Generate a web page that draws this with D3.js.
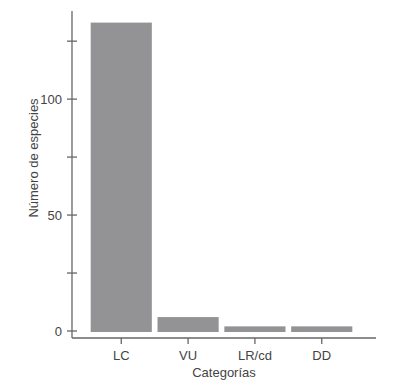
<!DOCTYPE html>
<html>
<head>
<meta charset="utf-8">
<script src="https://cdn.jsdelivr.net/npm/d3@7"></script>
<style>
  body { margin: 0; background: #fff; }
  svg text { font-family: "Liberation Sans", Arial, sans-serif; fill: #444; }
</style>
</head>
<body>
<div id="chart"></div>
<script>
// données
const categories = ['LC', 'VU', 'LR/cd', 'DD'];
const counts = [133, 6, 2, 2];
const yTicks = [0, 25, 50, 75, 100, 125];
const yLabels = [0, 50, 100];

const width = 398, height = 387;
const svg = d3.select('#chart')
  .append('svg')
  .attr('width', width)
  .attr('height', height);

const axisColor = '#666';

// échelles
const xScale = d3.scaleBand()
  .domain(categories)
  .range([85, 358])
  .padding(0.085);

const yScale = d3.scaleLinear()
  .domain([0, 138])
  .range([331, 11]);

// barres
svg.selectAll('rect.bar')
  .data(categories)
  .enter()
  .append('rect')
  .attr('class', 'bar')
  .attr('x', d => xScale(d))
  .attr('width', xScale.bandwidth())
  .attr('y', (d, i) => yScale(counts[i]))
  .attr('height', (d, i) => yScale(0) - yScale(counts[i]) + 1)
  .style('fill', '#939396');

// axe Y
const axisX = 72, axisY = 338;
svg.append('line')
  .attr('x1', axisX).attr('x2', axisX)
  .attr('y1', yScale(138)).attr('y2', axisY)
  .style('stroke', axisColor).style('stroke-width', 1.3);

svg.selectAll('line.ytick')
  .data(yTicks)
  .enter()
  .append('line')
  .attr('x1', axisX - 5).attr('x2', axisX + 5)
  .attr('y1', d => yScale(d)).attr('y2', d => yScale(d))
  .style('stroke', axisColor).style('stroke-width', 1.3);

svg.selectAll('text.ylab')
  .data(yLabels)
  .enter()
  .append('text')
  .attr('x', axisX - 10)
  .attr('y', d => yScale(d))
  .attr('dy', '0.35em')
  .style('text-anchor', 'end')
  .style('font-size', '13px')
  .text(d => d);

// axe X
svg.append('line')
  .attr('x1', axisX).attr('x2', 376)
  .attr('y1', axisY).attr('y2', axisY)
  .style('stroke', axisColor).style('stroke-width', 1.3);

svg.selectAll('line.xtick')
  .data(categories)
  .enter()
  .append('line')
  .attr('x1', d => xScale(d) + xScale.bandwidth() / 2)
  .attr('x2', d => xScale(d) + xScale.bandwidth() / 2)
  .attr('y1', axisY).attr('y2', axisY + 6)
  .style('stroke', axisColor).style('stroke-width', 1.3);

svg.selectAll('text.xlab')
  .data(categories)
  .enter()
  .append('text')
  .attr('x', d => xScale(d) + xScale.bandwidth() / 2)
  .attr('y', 360)
  .style('text-anchor', 'middle')
  .style('font-size', '13px')
  .text(d => d);

// titres des axes
svg.append('text')
  .attr('x', 224)
  .attr('y', 377)
  .style('text-anchor', 'middle')
  .style('font-size', '13px')
  .text('Categorías');

svg.append('text')
  .attr('transform', 'rotate(-90)')
  .attr('x', -158)
  .attr('y', 38)
  .style('text-anchor', 'middle')
  .style('font-size', '13px')
  .text('Número de especies');
</script>
</body>
</html>
